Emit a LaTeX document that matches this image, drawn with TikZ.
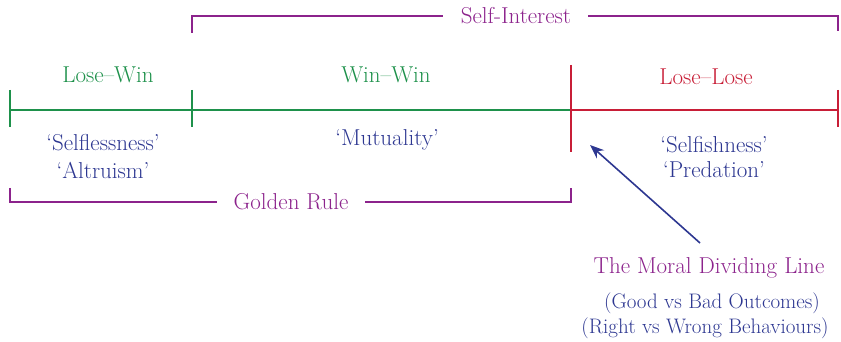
\documentclass[tikz,border=0pt]{standalone}
\usepackage{fontspec}
\usetikzlibrary{arrows.meta}
\definecolor{cgreen}{RGB}{30,145,75}
\definecolor{cred}{RGB}{200,30,55}
\definecolor{cpurple}{RGB}{140,35,140}
\definecolor{cblue}{RGB}{45,55,145}
\begin{document}
\begin{tikzpicture}[x=1pt,y=-1pt,
  lbl/.style={inner sep=0pt,font=\fontsize{23}{26}\selectfont},
  sml/.style={inner sep=0pt,font=\fontsize{21}{24}\selectfont},
  gline/.style={draw=cgreen,line width=1.8pt},
  rline/.style={draw=cred,line width=1.8pt},
  pline/.style={draw=cpurple,line width=1.8pt}]
\useasboundingbox (0,0) rectangle (841,342);
% coordinates
\coordinate (gL) at (10,110);
\coordinate (gM) at (192,110);
\coordinate (div) at (571,110);
\coordinate (rR) at (838,110);
% green line and ticks
\draw[gline] (gL) -- (div);
\draw[gline] (10,90) -- (10,127);
\draw[gline] (192,90) -- (192,127);
% red line and ticks
\draw[rline] (div) -- (rR);
\draw[rline] (571,65) -- (571,152);
\draw[rline] (838,90) -- (838,127);
% Self-Interest bracket
\node[lbl,text=cpurple] (si) at (516,16) {Self-Interest};
\draw[pline] (192,33) -- (192,16) -- (443,16);
\draw[pline] (588,16) -- (838,16) -- (838,31);
% Golden Rule bracket
\node[lbl,text=cpurple] (gr) at (291,202) {Golden Rule};
\draw[pline] (10,188) -- (10,202) -- (217,202);
\draw[pline] (365,202) -- (571,202) -- (571,188);
% labels
\node[lbl,text=cgreen] (lw) at (108,75) {Lose--Win};
\node[lbl,text=cgreen] (ww) at (386,75) {Win--Win};
\node[lbl,text=cred] (ll) at (706,77) {Lose--Lose};
\node[lbl,text=cblue] (s1) at (103,143) {`Selflessness'};
\node[lbl,text=cblue] (s2) at (103,170) {`Altruism'};
\node[lbl,text=cblue] (mu) at (387,140) {`Mutuality'};
\node[lbl,text=cblue] (p1) at (714,145) {`Selfishness'};
\node[lbl,text=cblue] (p2) at (714,170) {`Predation'};
\node[lbl,text=cpurple] (mdl) at (709,268) {The Moral Dividing Line};
\node[sml,text=cblue] (gb) at (712,303) {(Good vs Bad Outcomes)};
\node[sml,text=cblue] (rw) at (705,328) {(Right vs Wrong Behaviours)};
% arrow
\coordinate (aS) at (700,243);
\coordinate (aE) at (590,145);
\draw[draw=cblue,line width=1.6pt,-{Stealth[length=14pt,width=11pt]}] (aS) -- (aE);
\end{tikzpicture}
\end{document}
